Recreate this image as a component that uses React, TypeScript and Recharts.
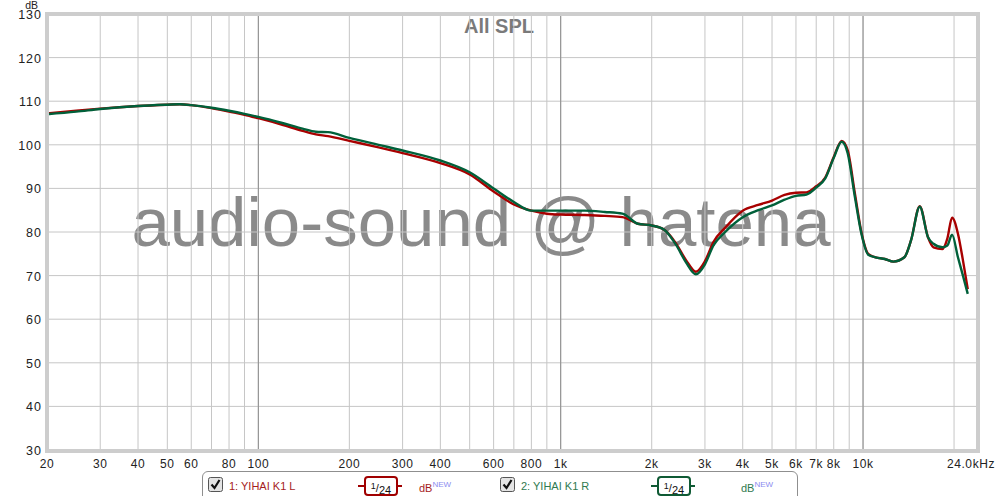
import React from "react";
import {
  LineChart,
  Line,
  XAxis,
  YAxis,
  CartesianGrid,
  ReferenceLine,
} from "recharts";

// 周波数 (Hz)
const freqs = [
  20, 25, 30, 40, 50, 55, 60, 70, 80, 90, 100, 120, 140, 155, 170, 200, 250,
  300, 400, 500, 600, 700, 800, 900, 1000, 1200, 1400, 1600, 1800, 2000, 2200,
  2400, 2600, 2800, 3000, 3200, 3500, 4000, 4500, 5000, 5500, 6000, 6500, 7000,
  7500, 8000, 8500, 8900, 9400, 9900, 10400, 11000, 11800, 12600, 13700, 14400,
  15400, 16400, 17100, 18300, 19000, 19700, 20600, 21400, 22200,
];

// 1: YIHAI K1 L (dB)
const leftSpl = [
  107.2, 107.8, 108.3, 108.9, 109.2, 109.3, 109.1, 108.4, 107.6, 106.9, 106.1,
  104.6, 103.2, 102.4, 102.0, 100.9, 99.4, 98.1, 95.8, 93.2, 89.3, 86.3, 84.9,
  84.2, 84.0, 83.9, 83.7, 83.4, 81.9, 81.5, 80.5, 77.5, 73.5, 70.9, 73.3, 77.7,
  81.0, 84.9, 86.2, 87.2, 88.5, 89.0, 89.1, 90.5, 92.5, 97.2, 100.9, 98.7,
  88.8, 79.6, 75.0, 74.2, 73.8, 73.2, 74.2, 78.0, 85.9, 78.8, 76.5, 76.1, 78.5,
  83.3, 79.6, 73.5, 66.9,
];

// 2: YIHAI K1 R (dB)
const rightSpl = [
  107.0, 107.6, 108.2, 108.9, 109.2, 109.3, 109.1, 108.5, 107.8, 107.1, 106.4,
  105.0, 103.7, 103.0, 102.9, 101.6, 100.0, 98.7, 96.4, 93.7, 90.0, 86.9, 84.9,
  84.9, 84.9, 84.9, 84.6, 84.2, 81.9, 81.5, 80.5, 77.2, 73.0, 70.3, 72.6, 76.9,
  80.0, 83.4, 85.0, 86.1, 87.4, 88.3, 88.6, 90.2, 92.3, 97.0, 100.7, 98.0,
  88.0, 79.3, 74.8, 74.2, 73.8, 73.2, 74.2, 78.0, 85.8, 78.8, 77.3, 76.5, 76.9,
  79.4, 74.2, 70.0, 65.8,
];

// グリッド線の周波数
const gridFreqs = [
  20, 30, 40, 50, 60, 70, 80, 90, 100, 200, 300, 400, 500, 600, 700, 800, 900,
  1000, 2000, 3000, 4000, 5000, 6000, 7000, 8000, 9000, 10000, 20000, 24000,
];
const decadeFreqs = [100, 1000, 10000];

// 目盛りラベル
const labelFreqs = [
  20, 30, 40, 50, 60, 80, 100, 200, 300, 400, 600, 800, 1000, 2000, 3000, 4000,
  5000, 6000, 7000, 8000, 10000, 24000,
];
const labelTexts = [
  "20", "30", "40", "50", "60", "80", "100", "200", "300", "400", "600", "800",
  "1k", "2k", "3k", "4k", "5k", "6k", "7k", "8k", "10k", "24.0kHz",
];

const dbTicks = [30, 40, 50, 60, 70, 80, 90, 100, 110, 120, 130];

const data = freqs.map((f, i) => ({ f, l: leftSpl[i], r: rightSpl[i] }));

const FONT = "'Liberation Sans', Arial, sans-serif";

const XTick = (props: any) => {
  const { x, y, payload } = props;
  const idx = labelFreqs.indexOf(payload.value);
  if (idx < 0) return null;
  const last = payload.value === 24000;
  return (
    <text
      x={last ? x - 7 : x}
      y={y + 10}
      textAnchor="middle"
      fontSize={12}
      fontFamily={FONT}
      letterSpacing={0.6}
      fill="#222"
    >
      {labelTexts[idx]}
    </text>
  );
};

const YTick = (props: any) => {
  const { x, y, payload } = props;
  return (
    <text
      x={x + 3}
      y={y + 5}
      textAnchor="end"
      fontSize={12.5}
      fontFamily={FONT}
      letterSpacing={1}
      fill="#222"
    >
      {payload.value}
    </text>
  );
};

const CheckBox = ({ left }: { left: number }) => (
  <svg
    width={15}
    height={15}
    style={{ position: "absolute", left, top: 5 }}
  >
    <rect x={0.5} y={0.5} width={14} height={14} rx={2} fill="#e4e4e4" stroke="#555" />
    <path d="M3.5 7.5 L6.5 11 L11.5 3" fill="none" stroke="#111" strokeWidth={2.2} />
  </svg>
);

const SmoothBadge = ({ left, color }: { left: number; color: string }) => (
  <div style={{ position: "absolute", left, top: 4, width: 44, height: 20 }}>
    <div
      style={{
        position: "absolute",
        left: 0,
        top: 9,
        width: 44,
        height: 2,
        background: color,
      }}
    />
    <div
      style={{
        position: "absolute",
        left: 6,
        top: 0,
        width: 30,
        height: 16,
        border: `2px solid ${color}`,
        borderRadius: 4,
        background: "#fff",
        fontFamily: FONT,
        fontSize: 11,
        color: "#111",
        lineHeight: "16px",
        textAlign: "center",
      }}
    >
      <span style={{ fontSize: 9, verticalAlign: "3px" }}>1</span>/
      <span style={{ fontSize: 11, verticalAlign: "-2px" }}>24</span>
    </div>
  </div>
);

const DbNew = ({ left, color }: { left: number; color: string }) => (
  <div
    style={{
      position: "absolute",
      left,
      top: 8,
      fontFamily: FONT,
      fontSize: 11,
      color,
      whiteSpace: "nowrap",
    }}
  >
    dB
    <span style={{ fontSize: 8, color: "#8c8cf0", verticalAlign: "5px" }}>NEW</span>
  </div>
);

const App = () => {
  return (
    <div
      style={{
        position: "absolute",
        left: 0,
        top: 0,
        width: 1000,
        height: 496,
        background: "#fff",
        overflow: "hidden",
      }}
    >
      {/* 透かし文字・タイトル */}
      <svg
        width={1000}
        height={496}
        style={{ position: "absolute", left: 0, top: 0, zIndex: 0 }}
      >
        <text
          x={481}
          y={246}
          textAnchor="middle"
          fontSize={69}
          fontFamily={FONT}
          fill="#8a8a8a"
        >
          audio-sound @ hatena
        </text>
        <text
          x={499}
          y={33}
          textAnchor="middle"
          fontSize={20}
          fontWeight="bold"
          fontFamily={FONT}
          fill="#7a7a7a"
        >
          All SPL
        </text>
        <text x={38} y={9} textAnchor="end" fontSize={10.5} fontFamily={FONT} fill="#222">
          dB
        </text>
      </svg>

      <div style={{ position: "absolute", left: 0, top: 0, zIndex: 1 }}>
        <LineChart
          width={1000}
          height={496}
          data={data}
          margin={{ top: 14, right: 22, bottom: 26, left: 0 }}
        >
          <CartesianGrid stroke="#c6c6c6" strokeWidth={1} />
          <XAxis
            dataKey="f"
            type="number"
            scale="log"
            domain={[20, 24000]}
            ticks={gridFreqs}
            allowDataOverflow
            axisLine={false}
            tickLine={false}
            interval={0}
            height={20}
            tick={<XTick />}
          />
          <YAxis
            type="number"
            domain={[30, 130]}
            ticks={dbTicks}
            axisLine={false}
            tickLine={false}
            width={47}
            interval={0}
            tick={<YTick />}
          />
          {decadeFreqs.map((f) => (
            <ReferenceLine key={f} x={f} stroke="#8c8c8c" strokeWidth={1} />
          ))}
          <Line
            type="monotone"
            dataKey="l"
            stroke="#a80000"
            strokeWidth={2.4}
            dot={false}
            isAnimationActive={false}
          />
          <Line
            type="monotone"
            dataKey="r"
            stroke="#00603a"
            strokeWidth={2.4}
            dot={false}
            isAnimationActive={false}
          />
        </LineChart>
      </div>

      {/* プロット枠 */}
      <div
        style={{
          position: "absolute",
          left: 45,
          top: 12,
          width: 935,
          height: 441,
          boxSizing: "border-box",
          border: "4px solid #cdcdcd",
          zIndex: 2,
          pointerEvents: "none",
        }}
      />

      {/* 凡例 */}
      <div
        style={{
          position: "absolute",
          left: 202,
          top: 471,
          width: 596,
          height: 34,
          boxSizing: "border-box",
          border: "1px solid #8f8f8f",
          borderRadius: 6,
          background: "#fff",
          zIndex: 3,
        }}
      >
        <CheckBox left={5} />
        <div
          style={{
            position: "absolute",
            left: 26,
            top: 8,
            fontFamily: FONT,
            fontSize: 11,
            color: "#a51c1c",
            whiteSpace: "nowrap",
          }}
        >
          1: YIHAI K1 L
        </div>
        <SmoothBadge left={155} color="#a00000" />
        <DbNew left={216} color="#a51c1c" />
        <CheckBox left={297} />
        <div
          style={{
            position: "absolute",
            left: 318,
            top: 8,
            fontFamily: FONT,
            fontSize: 11,
            color: "#2f7a4f",
            whiteSpace: "nowrap",
          }}
        >
          2: YIHAI K1 R
        </div>
        <SmoothBadge left={448} color="#0f5a34" />
        <DbNew left={538} color="#2f7a4f" />
      </div>
    </div>
  );
};

export default App;
